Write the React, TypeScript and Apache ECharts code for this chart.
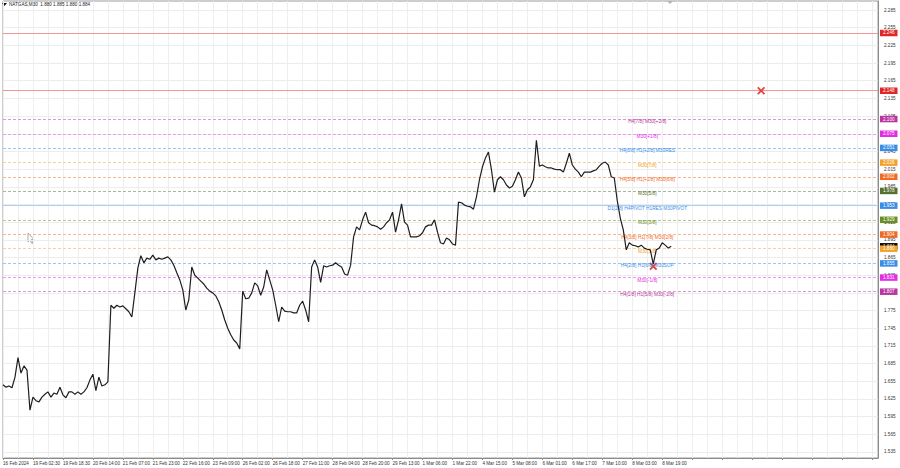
import React, { useEffect, useRef } from 'react';
import * as echarts from 'echarts';

// ---- data ----
const timeLabels = [
  '16 Feb 2024', '19 Feb 02:30', '19 Feb 18:30', '20 Feb 14:00', '21 Feb 07:00', '21 Feb 23:00',
  '22 Feb 16:00', '23 Feb 09:00', '26 Feb 02:00', '26 Feb 18:00', '27 Feb 11:00', '28 Feb 04:00',
  '28 Feb 20:00', '29 Feb 13:00', '1 Mar 06:00', '1 Mar 22:00', '4 Mar 15:00', '5 Mar 08:00',
  '6 Mar 01:00', '6 Mar 17:00', '7 Mar 10:00', '8 Mar 03:00', '8 Mar 19:00',
];

const prices = [
  1.649, 1.645, 1.647, 1.644, 1.662, 1.695, 1.669, 1.681, 1.674, 1.606,
  1.628, 1.622, 1.620, 1.628, 1.633, 1.637, 1.628, 1.635, 1.633, 1.645,
  1.632, 1.627, 1.637, 1.637, 1.633, 1.637, 1.633, 1.637, 1.644, 1.657,
  1.667, 1.639, 1.662, 1.647, 1.649, 1.654, 1.784, 1.779, 1.784, 1.781,
  1.783, 1.778, 1.773, 1.764, 1.805, 1.847, 1.868, 1.856, 1.864, 1.862,
  1.869, 1.861, 1.864, 1.862, 1.864, 1.866, 1.861, 1.852, 1.839, 1.827,
  1.810, 1.776, 1.793, 1.849, 1.835, 1.830, 1.825, 1.820, 1.813, 1.808,
  1.805, 1.800, 1.790, 1.776, 1.759, 1.745, 1.734, 1.725, 1.720, 1.710,
  1.808, 1.795, 1.796, 1.805, 1.822, 1.817, 1.801, 1.815, 1.844, 1.827,
  1.810, 1.784, 1.756, 1.781, 1.774, 1.773, 1.773, 1.771, 1.771, 1.784,
  1.791, 1.776, 1.756, 1.849, 1.861, 1.849, 1.823, 1.851, 1.849, 1.851,
  1.852, 1.856, 1.852, 1.849, 1.837, 1.835, 1.852, 1.900, 1.917, 1.912,
  1.929, 1.942, 1.924, 1.920, 1.919, 1.917, 1.913, 1.917, 1.924, 1.929,
  1.942, 1.908, 1.929, 1.956, 1.925, 1.920, 1.900, 1.900, 1.900, 1.902,
  1.907, 1.917, 1.920, 1.920, 1.929, 1.908, 1.890, 1.888, 1.898, 1.895,
  1.888, 1.886, 1.959, 1.958, 1.954, 1.952, 1.951, 1.947, 1.968, 1.997,
  2.019, 2.034, 2.044, 2.014, 1.976, 1.997, 2.002, 1.997, 1.988, 1.983,
  1.986, 1.997, 2.010, 2.000, 1.968, 1.980, 1.985, 1.997, 2.064, 2.020,
  2.022, 2.019, 2.017, 2.017, 2.015, 2.014, 2.014, 2.010, 2.025, 2.042,
  2.022, 2.015, 2.010, 2.002, 2.010, 2.010, 2.010, 2.012, 2.014, 2.020,
  2.025, 2.027, 2.022, 2.002, 2.000, 1.961, 1.932, 1.912, 1.878, 1.890,
  1.886, 1.885, 1.883, 1.886, 1.881, 1.879, 1.878, 1.854, 1.878, 1.881,
  1.890, 1.886, 1.881, 1.884,
];

const yTicks = [
  1.535, 1.565, 1.595, 1.625, 1.655, 1.685, 1.715, 1.745, 1.775, 1.805, 1.835, 1.865, 1.895,
  1.925, 1.955, 1.985, 2.015, 2.045, 2.075, 2.105, 2.135, 2.165, 2.195, 2.225, 2.255, 2.285,
];

const levelPrices = [2.100, 2.075, 2.051, 2.026, 2.002, 1.978, 1.953, 1.929, 1.904, 1.880, 1.855, 1.831, 1.807];
const levelNames = [
  'H4[7/8] M30[+2/8]', 'M30[+1/8]', 'H4[6/8] H1[+2/8] M30RES', 'M30[7/8]',
  'H4[5/8] H1[+1/8] M30[6/8]', 'M30[5/8]', 'D1[2/8] H4PIVOT H1RES M30PIVOT', 'M30[3/8]',
  'H4[3/8] H1[7/8] M30[2/8]', 'M30[1/8]', 'H4[2/8] H1[6/8] M30SUP', 'M30[-1/8]', 'H4[1/8] H1[5/8] M30[-2/8]',
];
const levelColors = [
  '#b8369f', '#e22de2', '#3a8ee6', '#f2a22c', '#ef6a24', '#55702f', '#3a8ee6',
  '#6b8e23', '#ef6a24', '#f2a22c', '#3a8ee6', '#e22de2', '#b8369f',
];
const redLevels = [2.246, 2.148];
const currentPrice = 1.884;
const crossMarks = [[253, 2.148], [217, 1.850]];

// ---- layout / style constants ----
const N_CATS = 293;
const Y_MIN = 1.5248;
const Y_MAX = 2.3003;
const FONT = 'Liberation Sans, Arial, sans-serif';
const FS = 4.6;

const cats = Array.from({ length: N_CATS }, (_, i) => String(i));
const fmt3 = (p: any) => Number(p.value).toFixed(3);

function pale(hex: string, k: number) {
  const n = parseInt(hex.slice(1), 16);
  const r = (n >> 16) & 255, g = (n >> 8) & 255, b = n & 255;
  const mix = (c: number) => Math.round(c * k + 255 * (1 - k));
  return `rgb(${mix(r)},${mix(g)},${mix(b)})`;
}

function buildOption() {
  const boxLabel = (bg: string) => ({
    show: true,
    position: 'end',
    distance: 2,
    formatter: fmt3,
    color: '#fff',
    backgroundColor: bg,
    padding: [1, 3, 0.5, 3],
    fontSize: FS,
    fontFamily: FONT,
    opacity: 1,
  });

  const levelLines: any[] = levelPrices.map((p, k) => ({
    yAxis: p,
    lineStyle: { color: pale(levelColors[k], k === 6 ? 0.42 : 0.5), type: k === 6 ? 'solid' : [3, 2], width: 1 },
    label: boxLabel(levelColors[k]),
  }));
  levelLines.splice(9, 0, {
    yAxis: currentPrice,
    lineStyle: { color: 'rgba(255,255,255,0)', width: 1 },
    label: boxLabel('#000000'),
  });

  return {
    animation: false,
    backgroundColor: '#fff',
    title: {
      text: 'NATGAS,M30  1.880 1.885 1.880 1.884',
      left: 9,
      top: 2,
      padding: 0,
      textStyle: { fontSize: FS, fontWeight: 'normal', color: '#222', fontFamily: FONT },
    },
    grid: { left: 1, right: 22, top: 1, bottom: 10, show: true, borderColor: '#9a9a9a', borderWidth: 1, containLabel: false },
    xAxis: {
      type: 'category',
      data: cats,
      boundaryGap: false,
      axisLine: { show: true, lineStyle: { color: '#8c8c8c' } },
      axisTick: { show: true, interval: 9, length: 2, lineStyle: { color: '#8c8c8c' } },
      axisLabel: {
        interval: 9,
        align: 'left',
        margin: 3,
        fontSize: FS,
        color: '#333',
        fontFamily: FONT,
        formatter: (_v: string, i: number) => (i % 10 === 0 && timeLabels[i / 10]) || '',
      },
      splitLine: { show: true, interval: 4, lineStyle: { color: '#eeeeee', width: 1 } },
    },
    yAxis: {
      type: 'value',
      min: Y_MIN,
      max: Y_MAX,
      position: 'right',
      axisLine: { show: true, lineStyle: { color: '#8c8c8c' } },
      axisTick: { show: false },
      axisLabel: { show: false },
      splitLine: { show: false },
    },
    series: [
      {
        type: 'line',
        data: [],
        z: 1,
        silent: true,
        markLine: {
          silent: true,
          symbol: 'none',
          animation: false,
          precision: 3,
          lineStyle: { color: '#ececec', type: 'solid', width: 1 },
          label: { show: true, position: 'end', distance: 6, formatter: fmt3, color: '#333', fontSize: FS, fontFamily: FONT },
          data: yTicks.map((v) => ({ yAxis: v })),
        },
      },
      {
        type: 'line',
        data: [],
        z: 2,
        silent: true,
        markLine: {
          silent: true,
          symbol: 'none',
          animation: false,
          precision: 3,
          lineStyle: { color: '#f29696', type: 'solid', width: 1 },
          label: boxLabel('#e02626'),
          data: redLevels.map((v) => ({ yAxis: v })),
        },
      },
      {
        type: 'line',
        data: [],
        z: 3,
        silent: true,
        markLine: {
          silent: true,
          symbol: 'none',
          animation: false,
          precision: 3,
          data: levelLines,
        },
        markPoint: {
          silent: true,
          animation: false,
          symbol: 'rect',
          symbolSize: 1,
          itemStyle: { color: 'rgba(0,0,0,0)' },
          label: { show: true, position: 'inside', offset: [0, 2.5], fontSize: 4.8, fontFamily: FONT, formatter: '{b}' },
          data: levelPrices.map((p, k) => ({
            name: levelNames[k],
            coord: [215, p],
            label: { color: levelColors[k] },
          })),
        },
      },
      {
        type: 'line',
        data: prices,
        z: 5,
        showSymbol: false,
        symbol: 'none',
        silent: true,
        lineStyle: { color: '#1e1e1e', width: 1.2 },
        markPoint: {
          silent: true,
          animation: false,
          symbol: 'path://M0,1.6 L1.6,0 L5,3.4 L8.4,0 L10,1.6 L6.6,5 L10,8.4 L8.4,10 L5,6.6 L1.6,10 L0,8.4 L3.4,5 Z',
          symbolSize: 8,
          itemStyle: { color: '#e2453f' },
          label: { show: false },
          data: crossMarks.map((c) => ({ coord: c })),
        },
      },
    ],
    graphic: [
      { type: 'polygon', shape: { points: [[2, 3], [7, 3], [4.5, 6]] }, style: { fill: '#111' } },
      { type: 'polygon', shape: { points: [[667, 1], [673, 1], [670, 4]] }, style: { fill: '#b5b5b5' } },
      {
        type: 'polygon',
        shape: { points: [[28, 233], [28, 242], [30, 240], [31.8, 243.5], [33, 243], [31.3, 239.5], [34, 239.5]] },
        style: { fill: '#fff', stroke: '#8a8a8a', lineWidth: 0.7 },
      },
    ],
  };
}

export default function App() {
  const ref = useRef<HTMLDivElement>(null);
  useEffect(() => {
    if (!ref.current) return;
    const chart = echarts.init(ref.current, null, { renderer: 'svg' });
    chart.setOption(buildOption() as any);
    return () => chart.dispose();
  }, []);
  return (
    <div
      ref={ref}
      style={{ position: 'fixed', left: 0, top: 0, width: 900, height: 468, background: '#fff' }}
    />
  );
}
